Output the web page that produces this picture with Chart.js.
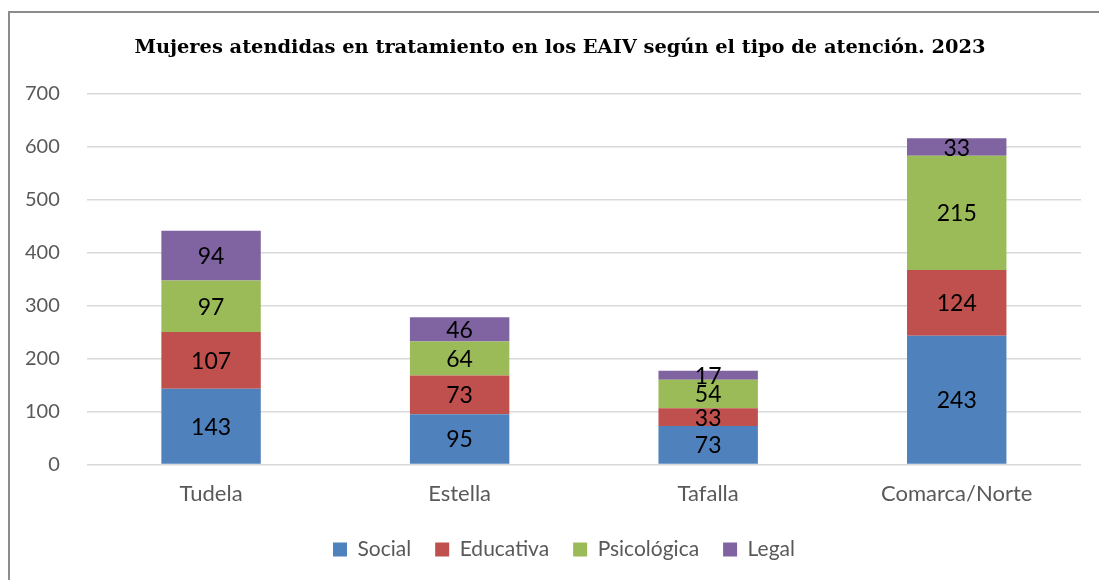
<!DOCTYPE html>
<html>
<head>
<meta charset="utf-8">
<script src="https://cdn.jsdelivr.net/npm/chart.js@4.4.0/dist/chart.umd.min.js"></script>
<style>
  html, body { margin: 0; background: #fff; overflow: hidden; width: 1099px; height: 580px; }
  #frame { position: absolute; left: 8px; top: 11px; width: 1100px; height: 600px; border: 2px solid #8c8c8c; box-sizing: border-box; }
  #wrap { position: absolute; left: 0; top: 0; width: 1099px; height: 580px; }
</style>
</head>
<body>
<div id="frame"></div>
<div id="wrap"><canvas id="eaivChart" width="1099" height="580"></canvas></div>
<script>
// categories and series
const zonas = ['Tudela', 'Estella', 'Tafalla', 'Comarca/Norte'];
const social = [143, 95, 73, 243];
const educativa = [107, 73, 33, 124];
const psicologica = [97, 64, 54, 215];
const legal = [94, 46, 17, 33];
const yTicks = [0, 100, 200, 300, 400, 500, 600, 700];

const bodyFont = 'Lato, "Noto Sans", sans-serif';

// draws the value in the middle of each stacked segment
const segmentLabels = {
    id: 'segmentLabels',
    afterDatasetsDraw(chart) {
        const ctx = chart.ctx;
        ctx.save();
        ctx.font = '23px ' + bodyFont;
        ctx.fillStyle = '#000';
        ctx.textAlign = 'center';
        ctx.textBaseline = 'middle';
        chart.data.datasets.forEach((ds, i) => {
            const meta = chart.getDatasetMeta(i);
            meta.data.forEach((bar, j) => {
                ctx.fillText(ds.data[j], bar.x, (bar.y + bar.base) / 2 + 1);
            });
        });
        ctx.restore();
    }
};

// the original centres title and legend on the whole frame, a bit right of the plot
const centreOnFrame = {
    id: 'centreOnFrame',
    afterLayout(chart) {
        chart.titleBlock.left += 7;
        chart.titleBlock.right += 7;
        chart.legend.left += 11;
        chart.legend.right += 11;
    }
};

new Chart(document.getElementById('eaivChart').getContext('2d'), {
    type: 'bar',
    data: {
        labels: zonas,
        datasets: [
            { label: 'Social', data: social, backgroundColor: '#4f81bd' },
            { label: 'Educativa', data: educativa, backgroundColor: '#c0504d' },
            { label: 'Psicológica', data: psicologica, backgroundColor: '#9bbb59' },
            { label: 'Legal', data: legal, backgroundColor: '#8064a2' }
        ]
    },
    options: {
        responsive: false,
        animation: false,
        layout: { padding: { left: 25, right: 18, top: 0, bottom: 10 } },
        datasets: { bar: { categoryPercentage: 1, barPercentage: 0.4 } },
        plugins: {
            title: {
                display: true,
                text: 'Mujeres atendidas en tratamiento en los EAIV según el tipo de atención. 2023',
                color: '#000',
                font: { family: '"DejaVu Serif", "Liberation Serif", serif', size: 19.4, weight: 'bold' },
                padding: { top: 36, bottom: 34 }
            },
            legend: {
                position: 'bottom',
                labels: {
                    color: '#595959',
                    font: { family: bodyFont, size: 21 },
                    boxWidth: 14,
                    boxHeight: 14,
                    padding: 24
                }
            },
            tooltip: { enabled: false }
        },
        scales: {
            x: {
                stacked: true,
                grid: { display: false },
                border: { display: false },
                ticks: { color: '#595959', font: { family: bodyFont, size: 22 }, padding: 8 }
            },
            y: {
                stacked: true,
                min: 0,
                max: 700,
                afterBuildTicks: axis => { axis.ticks = yTicks.map(v => ({ value: v })); },
                grid: { color: '#d9d9d9', lineWidth: 1.5, drawTicks: true, tickLength: 27, tickColor: 'rgba(0,0,0,0)' },
                border: { display: false },
                ticks: { color: '#595959', font: { family: bodyFont, size: 20 }, padding: 0 }
            }
        }
    },
    plugins: [segmentLabels, centreOnFrame]
});
</script>
</body>
</html>
